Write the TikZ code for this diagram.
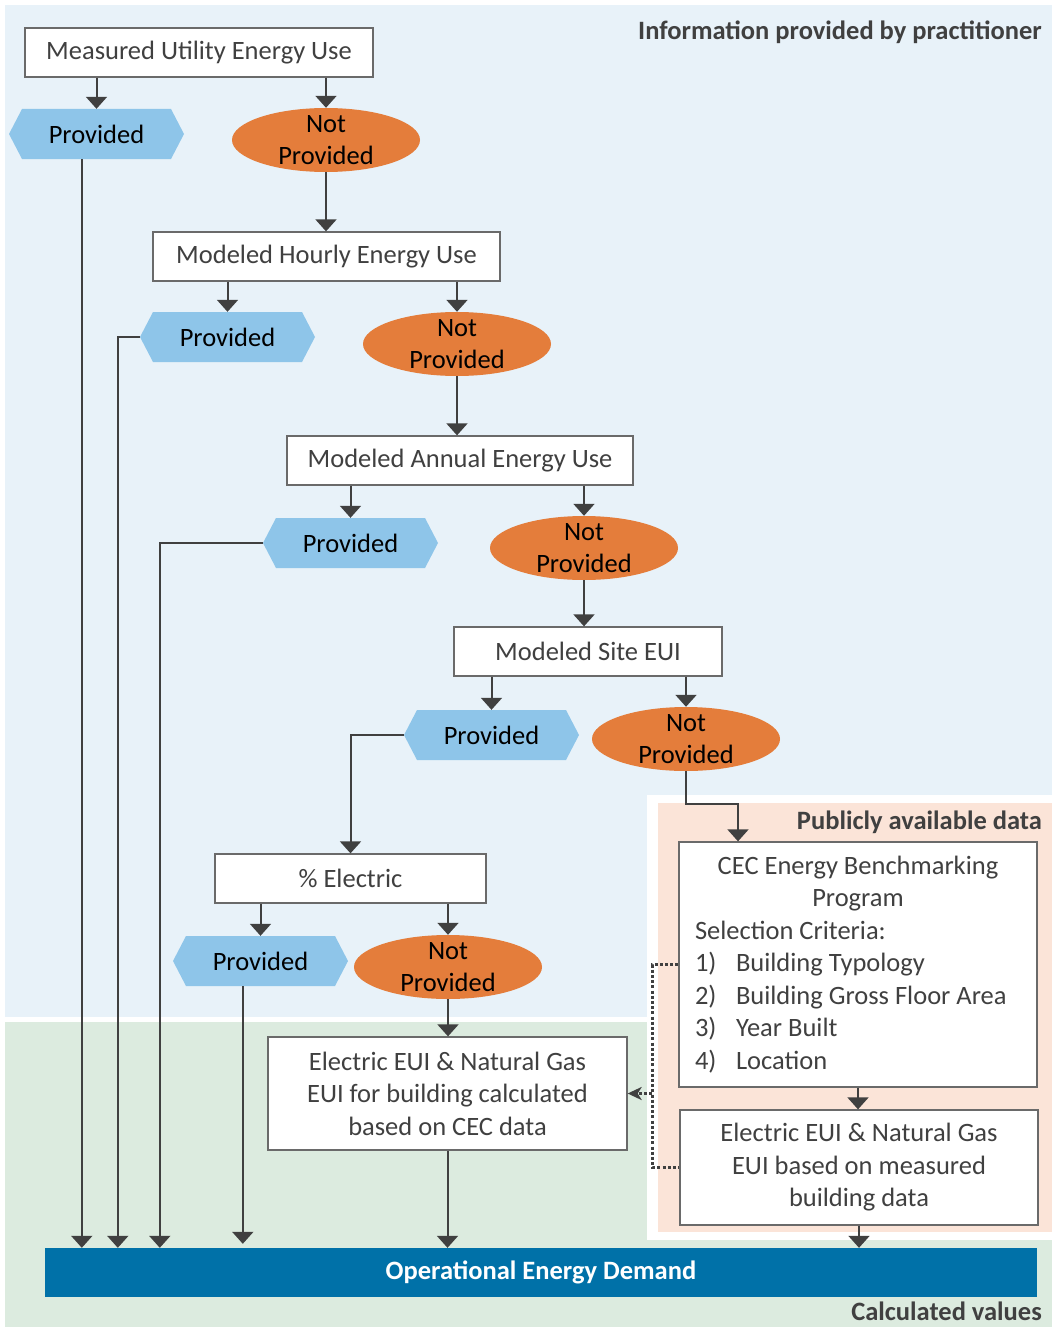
\documentclass[tikz,border=0pt]{standalone}
\usepackage{fontspec}
\setmainfont{Carlito}
\usetikzlibrary{arrows.meta,shapes.geometric,calc}
\definecolor{bgblue}{HTML}{E8F2F9}
\definecolor{bggreen}{HTML}{DCEBDF}
\definecolor{bgsalmon}{HTML}{FBE4D8}
\definecolor{hexblue}{HTML}{8EC5E9}
\definecolor{ellorange}{HTML}{E47D3B}
\definecolor{barblue}{HTML}{0071A8}
\definecolor{txtgray}{HTML}{404040}
\definecolor{linegray}{HTML}{404040}
\definecolor{boxline}{HTML}{6A6A6A}
\tikzset{
  basefont/.style={font=\fontsize{26.5}{32.5}\selectfont, inner sep=0pt},
  boxnode/.style={basefont, draw=boxline, line width=1.3pt, fill=white, text=txtgray},
  hexnode/.style={basefont, text=black, minimum width=175pt, minimum height=50pt},
  ellnode/.style={basefont, ellipse, fill=ellorange, minimum width=188pt, minimum height=64pt,
    label={[basefont, text=black, align=center]center:Not\\Provided}},
  arr/.style={draw=linegray, line width=2pt, -{Triangle[width=21pt,length=12pt]}},
  dotarr/.style={draw=linegray, line width=3pt, dash pattern=on 3pt off 2.2pt},
  headtext/.style={font=\fontsize{26.5}{32.5}\selectfont\bfseries, text=txtgray, anchor=east, inner sep=0pt},
}
\newcommand\provhex[2]{%
  \fill[hexblue] ($(#2)+(-87.5,0)$) -- ++(13,-25) -- ++(149,0) -- ++(13,25) -- ++(-13,25) -- ++(-149,0) -- cycle;
  \node[hexnode] (#1) at (#2) {Provided};}
\begin{document}
\begin{tikzpicture}[x=1pt,y=-1pt]
\useasboundingbox (0,0) rectangle (1052,1327);
% regions
\fill[bgblue] (5,5) rectangle (1052,1017);
\fill[bggreen] (5,1022) rectangle (1052,1327);
\fill[white] (647,795) rectangle (1052,1240);
\fill[bgsalmon] (658,803) rectangle (1052,1232);

\node[headtext] (h1) at (1042,32) {Information provided by practitioner};
\node[headtext] (h2) at (1042,822) {Publicly available data};
\node[headtext] (h3) at (1042,1311) {Calculated values};

% boxes
\node[boxnode, minimum width=348pt, minimum height=49pt] (b1) at (199,52.5) {Measured Utility Energy Use};
\node[boxnode, minimum width=347pt, minimum height=49pt] (b2) at (326.5,256.5) {Modeled Hourly Energy Use};
\node[boxnode, minimum width=346pt, minimum height=49pt] (b3) at (460,460.5) {Modeled Annual Energy Use};
\node[boxnode, minimum width=268pt, minimum height=49pt] (b4) at (588,651.5) {Modeled Site EUI};
\node[boxnode, minimum width=271pt, minimum height=49pt] (b5) at (350.5,878.5) {\% Electric};
\node[boxnode, align=center, minimum width=359pt, minimum height=113pt] (b6) at (447.5,1093.5) {Electric EUI \& Natural Gas\\EUI for building calculated\\based on CEC data};
\node[boxnode, minimum width=358pt, minimum height=245pt] (cec) at (858,964.5) {\begin{minipage}{326pt}\raggedright{\centering CEC Energy Benchmarking\\Program\par}Selection Criteria:\\\makebox[41pt][l]{1)}Building Typology\\\makebox[41pt][l]{2)}Building Gross Floor Area\\\makebox[41pt][l]{3)}Year Built\\\makebox[41pt][l]{4)}Location\end{minipage}};
\node[boxnode, align=center, minimum width=358pt, minimum height=115pt] (b7) at (859,1167.5) {Electric EUI \& Natural Gas\\EUI based on measured\\building data};
\node[basefont, fill=barblue, text=white, font=\fontsize{26.5}{32.5}\selectfont\bfseries, minimum width=992pt, minimum height=49pt] (bar) at (541,1272.5) {Operational Energy Demand};

% provided hexagons
\provhex{p1}{96.5,134}
\provhex{p2}{227.5,337}
\provhex{p3}{350.5,543}
\provhex{p4}{491.5,735}
\provhex{p5}{260.5,961}

% not provided ellipses
\node[ellnode] (n1) at (326,140) {};
\node[ellnode] (n2) at (457,344) {};
\node[ellnode] (n3) at (584,548) {};
\node[ellnode] (n4) at (686,739) {};
\node[ellnode] (n5) at (448,967) {};

% connectors
\draw[arr] (p1.north |- b1.south) -- (p1.north);
\draw[arr] (n1.north |- b1.south) -- (n1.north);
\draw[arr] (n1.south) -- (n1.south |- b2.north);
\draw[arr] (p2.north |- b2.south) -- (p2.north);
\draw[arr] (n2.north |- b2.south) -- (n2.north);
\draw[arr] (n2.south) -- (n2.south |- b3.north);
\draw[arr] (p3.north |- b3.south) -- (p3.north);
\draw[arr] (n3.north |- b3.south) -- (n3.north);
\draw[arr] (n3.south) -- (n3.south |- b4.north);
\draw[arr] (p4.north |- b4.south) -- (p4.north);
\draw[arr] (n4.north |- b4.south) -- (n4.north);
\coordinate (cecin) at ($(cec.north)+(-120,0)$);
\coordinate (cecturn) at ($(cec.north)+(-120,-37)$);
\draw[arr] (n4.south) |- (cecturn) -- (cecin);
\draw[arr] (p4.west) -| (b5.north);
\draw[arr] (p5.north |- b5.south) -- (p5.north);
\draw[arr] (n5.north |- b5.south) -- (n5.north);
\draw[arr] (n5.south) -- (n5.south |- b6.north);
\draw[arr] (b6.south) -- (b6.south |- bar.north);
\draw[arr] (cec.south) -- (cec.south |- b7.north);
\draw[arr] (b7.south) -- (b7.south |- bar.north);

\coordinate (l1) at ($(bar.north west)+(37,0)$);
\coordinate (l2) at ($(bar.north west)+(73,0)$);
\coordinate (l3) at ($(bar.north west)+(115,0)$);
\coordinate (l5) at ($(bar.north west)+(198,0)$);
\draw[arr] (l1 |- p1.south) -- (l1);
\draw[arr] (p2.west) -| (l2);
\draw[arr] (p3.west) -| (l3);
\draw[arr] (l5 |- p5.south) -- ($(l5)+(0,-4)$);

% dotted links
\coordinate (dv) at ($(cec.west)+(-26,0)$);
\draw[dotarr] (cec.west) -- (dv) |- (b7.west);
\draw[dotarr, -{Stealth[width=13pt,length=14pt,inset=4pt]}] (dv |- b6.east) -- (b6.east);
\end{tikzpicture}
\end{document}
